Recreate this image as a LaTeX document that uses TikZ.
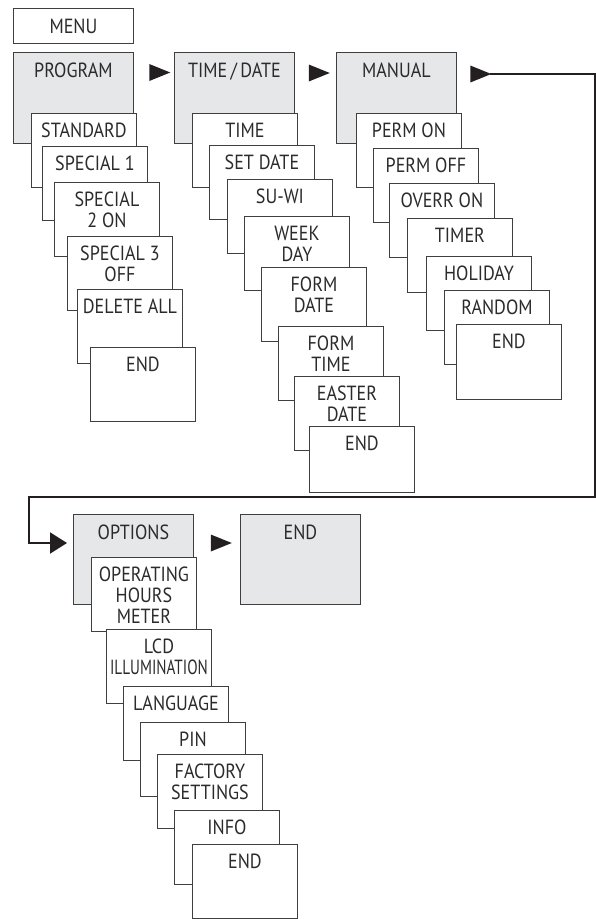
\documentclass[tikz,border=0pt]{standalone}
\usepackage{fontspec}
\setmainfont{PT Sans}[FakeStretch=0.88]
\usetikzlibrary{shapes.geometric, arrows.meta}
\definecolor{boxgray}{HTML}{E6E7E8}
\definecolor{boxline}{HTML}{3F3F3F}
\definecolor{textgray}{HTML}{2B2B2B}
\definecolor{flowblack}{HTML}{231F20}
\tikzset{
  menu/.style={draw=boxline, line width=0.9pt, anchor=north west, inner sep=0pt,
    text=textgray, font=\fontsize{20.5}{21}\selectfont},
  headbox/.style={menu, fill=boxgray,
    execute at begin node={\begin{minipage}[t][#1][t]{120pt}\centering\rule{0pt}{25pt}},
    execute at end node={\end{minipage}}},
  headbox/.default=91pt,
  subbox/.style={menu, fill=white,
    execute at begin node={\begin{minipage}[t][#1][t]{105pt}\centering\rule{0pt}{24pt}},
    execute at end node={\end{minipage}}},
  subbox/.default=74pt,
  tri/.style={isosceles triangle, isosceles triangle stretches, fill=flowblack,
    minimum width=17pt, minimum height=21pt, inner sep=0pt},
  flow/.style={draw=flowblack, line width=2pt, -{Triangle[length=17pt, width=21pt]}, shorten >=6pt}
}
\begin{document}
\begin{tikzpicture}[x=1pt, y=-1pt]
    \useasboundingbox (0,0) rectangle (596,919);

    \node[headbox=35pt, fill=white]  (M)    at ( 13,   8)   {MENU};

    \node[headbox]  (P)    at ( 13,  52)   {PROGRAM};
    \node[subbox]   (PS)   at ( 31, 113)   {STANDARD};
    \node[subbox]   (P1)   at ( 42, 146)   {SPECIAL 1};
    \node[subbox]   (P2)   at ( 54, 182)   {SPECIAL\\2 ON};
    \node[subbox]   (P3)   at ( 67, 236)   {SPECIAL 3\\OFF};
    \node[subbox]   (PD)   at ( 77, 289)   {DELETE ALL};
    \node[subbox]   (PE)   at ( 90, 347)   {END};

    \node[headbox]  (T)    at (174,  52)   {TIME\,/\,DATE};
    \node[subbox]   (TT)   at (192, 113)   {TIME};
    \node[subbox]   (TS)   at (209, 145)   {SET DATE};
    \node[subbox]   (TW)   at (227, 179)   {SU-WI};
    \node[subbox]   (TD)   at (244, 216)   {WEEK\\DAY};
    \node[subbox]   (TFD)  at (261, 267)   {FORM\\DATE};
    \node[subbox]   (TFT)  at (278, 326)   {FORM\\TIME};
    \node[subbox]   (TE)   at (294, 376)   {EASTER\\DATE};
    \node[subbox=66pt] (TEND) at (309, 426) {END};

    \node[headbox]  (MN)   at (336,  52)   {MANUAL};
    \node[subbox]   (MN1)  at (356, 113)   {PERM ON};
    \node[subbox]   (MN2)  at (373, 148)   {PERM OFF};
    \node[subbox]   (MN3)  at (389, 183)   {OVERR ON};
    \node[subbox]   (MN4)  at (407, 218)   {TIMER};
    \node[subbox]   (MN5)  at (426, 256)   {HOLIDAY};
    \node[subbox]   (MN6)  at (444, 290)   {RANDOM};
    \node[subbox=75pt] (MNE) at (456, 324) {END};

    \node[headbox=90pt] (O)  at ( 73, 514)   {OPTIONS};
    \node[subbox]   (OH)   at ( 91, 557)   {OPERATING\\HOURS\\METER};
    \node[subbox]   (OL)   at (106, 629)   {LCD\\\scalebox{0.84}[1]{ILLUMINATION}};
    \node[subbox]   (OG)   at (123, 686)   {LANGUAGE};
    \node[subbox]   (OP)   at (140, 722)   {PIN};
    \node[subbox]   (OF)   at (157, 754)   {FACTORY\\SETTINGS};
    \node[subbox]   (OI)   at (174, 810)   {INFO};
    \node[subbox]   (OE)   at (192, 844)   {END};

    \node[headbox=90pt] (E)  at (240, 514)   {END};

    \node[tri]  (A1)  at (155.0,  72.5)  {};
    \node[tri]  (A2)  at (314.5,  73.0)  {};
    \node[tri]  (A3)  at (476.0,  74.0)  {};
    \node[tri]  (A4)  at (216.5, 543.0)  {};

    \coordinate (C1) at (490,  74);
    \coordinate (C2) at (595, 497);
    \coordinate (C3) at ( 29, 543);

    \draw[flow] (C1) -| (C2) -| (C3) -- (O.north west |- C3);
\end{tikzpicture}
\end{document}
